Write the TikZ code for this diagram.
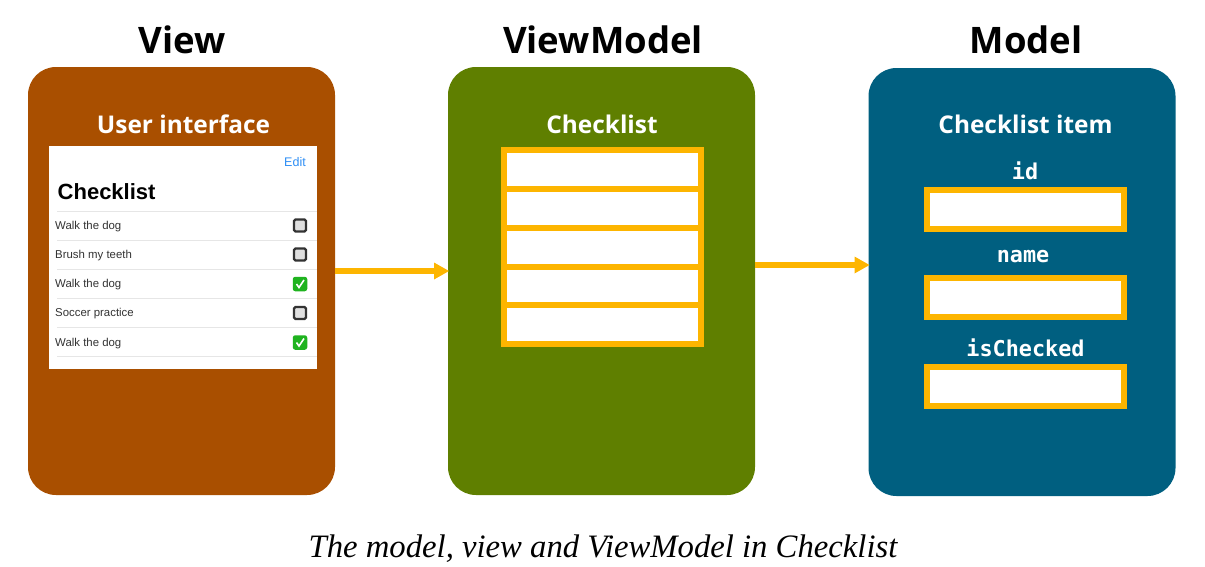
\documentclass[tikz,border=0pt]{standalone}
\usepackage{fontspec}
\setmainfont{Open Sans}
\newfontfamily\capfont{Liberation Serif}
\newfontfamily\uifont{Liberation Sans}
\setmonofont{DejaVu Sans Mono}
\definecolor{vbrown}{HTML}{A94F00}
\definecolor{vgreen}{HTML}{5F7F00}
\definecolor{vblue}{HTML}{005F80}
\definecolor{gold}{HTML}{FDB500}
\definecolor{editblue}{HTML}{2F8FF5}
\definecolor{rule}{HTML}{E6E6E6}
\definecolor{rowtext}{HTML}{333333}
\definecolor{tickgreen}{HTML}{1FB31F}
\tikzset{
  x=1pt,y=-1pt,
  panel/.style={rectangle,rounded corners=28pt,minimum width=307pt,minimum height=428pt,inner sep=0pt,outer sep=0pt},
  headtext/.style={font=\fontsize{36.5}{40}\selectfont\bfseries,text=black,inner sep=0pt},
  subtext/.style={font=\fontsize{24.4}{30}\selectfont\bfseries,text=white,inner sep=0pt},
  codetext/.style={font=\fontsize{21.8}{26}\selectfont\ttfamily\bfseries,text=white,inner sep=0pt},
  slot/.style={rectangle,draw=gold,line width=6pt,fill=white,inner sep=0pt,outer sep=0pt,minimum width=197pt},
  flow/.style={draw=gold,line width=6pt},
  flowhead/.style={fill=gold,draw=none},
  rowlabel/.style={font=\uifont\fontsize{11.4}{14}\selectfont,text=rowtext,inner sep=0pt,anchor=west},
  rowline/.style={draw=rule,line width=1pt},
  emptybox/.style={rectangle,rounded corners=1.5pt,draw=black!80,line width=2.2pt,fill=black!12,minimum size=12pt,inner sep=0pt},
  tickbox/.style={rectangle,rounded corners=2.5pt,fill=tickgreen,minimum size=14.5pt,inner sep=0pt},
  tick/.style={draw=white,line width=1.6pt},
}
\newcommand{\tickmark}[1]{\draw[tick] ([xshift=-3.5pt,yshift=0pt]#1.center) -- ([xshift=-1pt,yshift=-3.5pt]#1.center) -- ([xshift=4pt,yshift=4pt]#1.center);}
\begin{document}
\begin{tikzpicture}
\useasboundingbox (0,0) rectangle (1205,566);
% panels
\node[panel,fill=vbrown] (view) at (181.5,281) {};
\node[panel,fill=vgreen] (vm) at (601.5,281) {};
\node[panel,fill=vblue] (model) at (1022,282) {};
% headings
\node[headtext] (hview) at (182,40) {View};
\node[headtext] (hvm) at (603,40) {ViewModel};
\node[headtext] (hmodel) at (1026,40) {Model};
\node[subtext] (sview) at (183.5,124) {User interface};
\node[subtext] (svm) at (602,124) {Checklist};
\node[subtext] (smodel) at (1025.5,124) {Checklist item};
% screen
\node[rectangle,fill=white,minimum width=268pt,minimum height=223pt,inner sep=0pt] (screen) at (183,257.5) {};
\node[font=\uifont\fontsize{12.5}{15}\selectfont,text=editblue,inner sep=0pt] (edit) at (295,162) {Edit};
\node[font=\uifont\fontsize{22}{26}\selectfont\bfseries,text=black,inner sep=0pt,anchor=west] (title) at (57.5,192) {Checklist};
\foreach \yy in {211,240,269,298,327,356}{\draw[rowline] (57,\yy) -- (317,\yy);}
\node[rowlabel] (r1) at (55,226.5) {Walk the dog};
\node[rowlabel] (r2) at (55,255.5) {Brush my teeth};
\node[rowlabel] (r3) at (55,285) {Walk the dog};
\node[rowlabel] (r4) at (55,314) {Soccer practice};
\node[rowlabel] (r5) at (55,343.5) {Walk the dog};
\node[emptybox] (c1) at (300,225.5) {};
\node[emptybox] (c2) at (300,254.5) {};
\node[tickbox] (c3) at (300,284) {};
\node[emptybox] (c4) at (300,313) {};
\node[tickbox] (c5) at (300,342.5) {};
\tickmark{c3}
\tickmark{c5}
% ViewModel list
\node[slot,minimum height=39pt] (v1) at (602.5,169.5) {};
\node[slot,minimum height=39pt] (v2) at (602.5,208.3) {};
\node[slot,minimum height=39pt] (v3) at (602.5,247) {};
\node[slot,minimum height=39pt] (v4) at (602.5,286) {};
\node[slot,minimum height=39pt] (v5) at (602.5,324.7) {};
% Model fields
\node[codetext] (lid) at (1025,171) {id};
\node[codetext] (lname) at (1023,256.5) {name};
\node[codetext] (lchk) at (1025.5,347.5) {isChecked};
\node[slot,minimum height=39pt] (f1) at (1025.5,209.5) {};
\node[slot,minimum height=39pt] (f2) at (1025.5,297.5) {};
\node[slot,minimum height=39pt] (f3) at (1025.5,386.5) {};
% arrows
\draw[flow] ([yshift=10pt]view.east) -- ([xshift=-12pt,yshift=10pt]vm.west);
\fill[flowhead] ([xshift=1pt,yshift=10pt]vm.west) -- ([xshift=-14pt,yshift=18.5pt]vm.west) -- ([xshift=-14pt,yshift=1.5pt]vm.west) -- cycle;
\draw[flow] ([yshift=16pt]vm.east) -- ([xshift=-12pt,yshift=17pt]model.west);
\fill[flowhead] ([xshift=1pt,yshift=17pt]model.west) -- ([xshift=-14pt,yshift=25.5pt]model.west) -- ([xshift=-14pt,yshift=8.5pt]model.west) -- cycle;
% caption
\node[font=\capfont\fontsize{32.7}{38}\selectfont\itshape,text=black,inner sep=0pt] (cap) at (603,548.5) {The model, view and ViewModel in Checklist};
\end{tikzpicture}
\end{document}
